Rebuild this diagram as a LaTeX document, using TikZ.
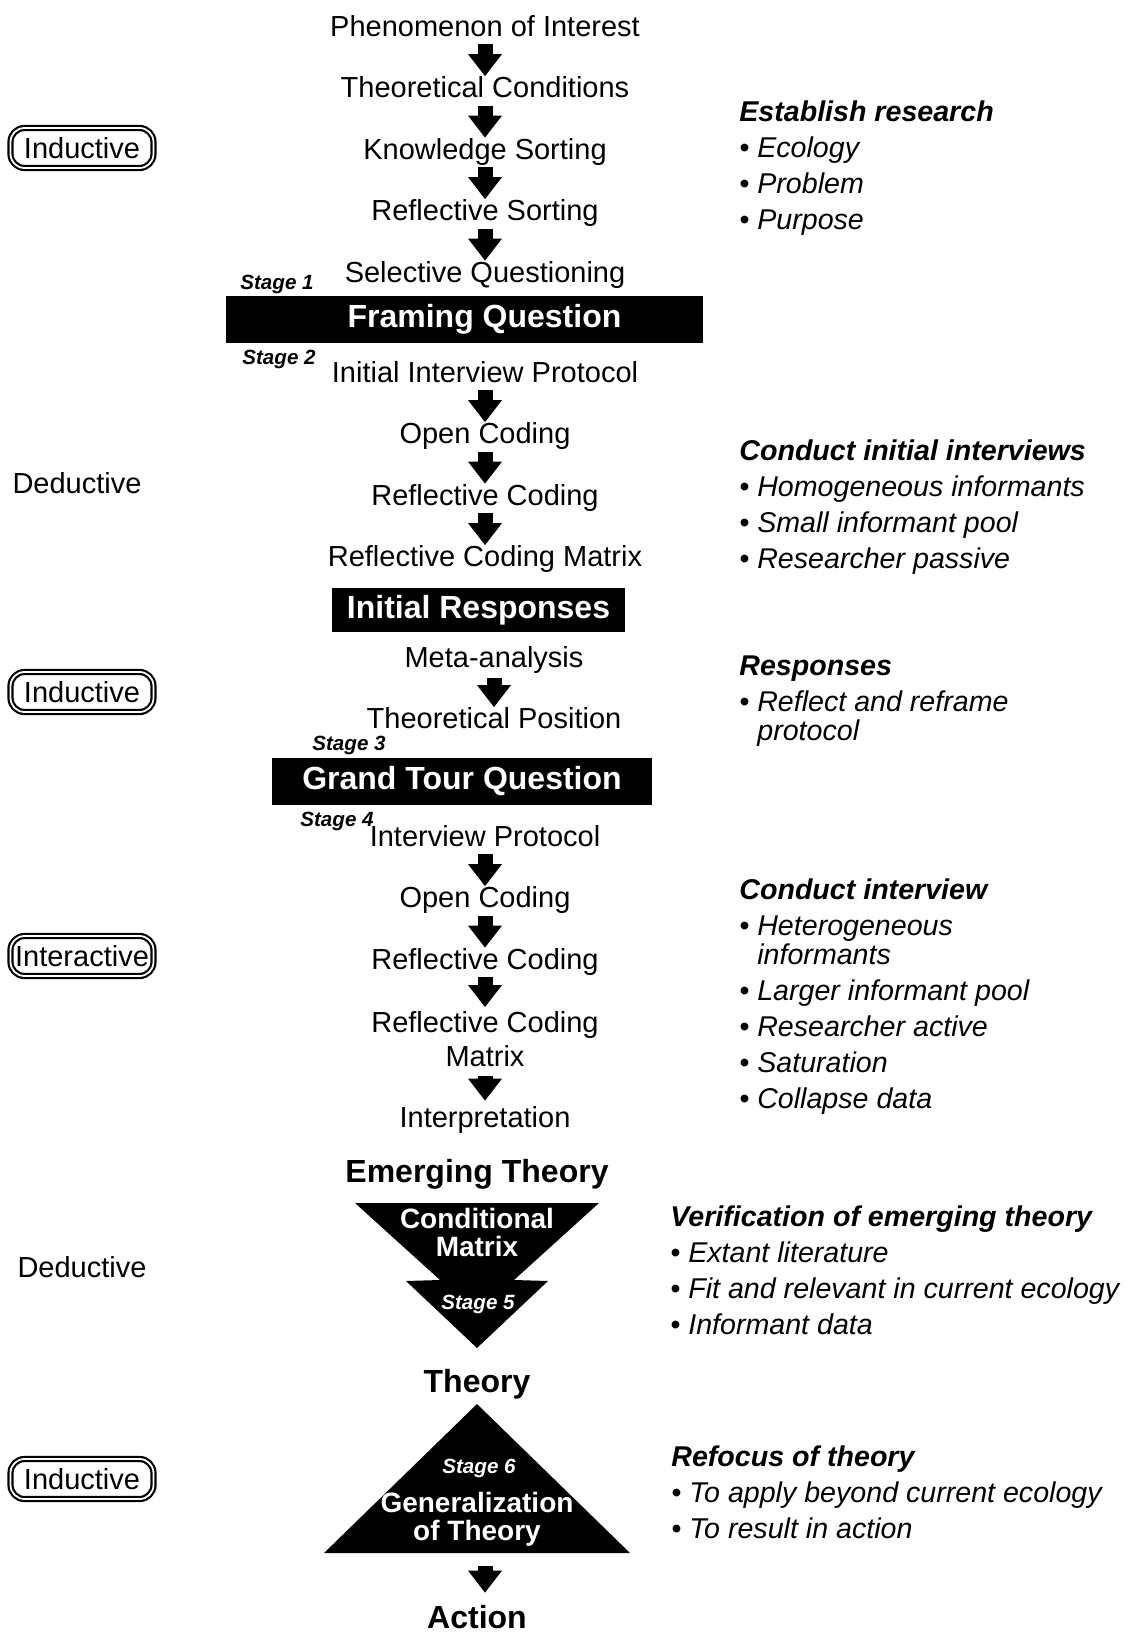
\documentclass[tikz,border=0pt]{standalone}
\usepackage{fontspec}
\setmainfont{Liberation Sans}
\usetikzlibrary{positioning, arrows.meta}

\begin{document}
\begin{tikzpicture}[x=0.5pt, y=-0.5pt, node distance=30.75pt,
    stepbase/.style={inner sep=0pt, font=\fontsize{14.5}{17}\selectfont},
    stepnode/.style={stepbase, text height=11pt, text depth=3.2pt},
    blk/.style={line width=7.5pt, -{Triangle[width=17pt, length=11pt, line width=0pt]}, shorten <=0.65pt, shorten >=-0.35pt},
    blackbar/.style={fill=black, text=white, inner sep=0pt, font=\bfseries\fontsize{16}{19}\selectfont},
    stagelbl/.style={inner sep=0pt, font=\bfseries\itshape\fontsize{10.3}{12}\selectfont},
    titlenode/.style={inner sep=0pt, font=\bfseries\fontsize{16}{19}\selectfont, text height=12pt, text depth=3.5pt},
    tritext/.style={inner sep=0pt, align=center, text=white, font=\bfseries\fontsize{14}{14}\selectfont},
    badge/.style={draw, double, double distance=0.9pt, line width=1.1pt, rounded corners=7pt, minimum width=71.5pt, minimum height=20pt, inner sep=1pt, font=\fontsize{14.5}{17}\selectfont},
    sidelbl/.style={inner sep=0pt, font=\fontsize{14.5}{17}\selectfont},
    notes/.style={anchor=north west, align=left, inner sep=0pt, font=\itshape\fontsize{14.3}{14.5}\selectfont}
]
    \useasboundingbox (0,0) rectangle (1126,1641);

    % Stage 1 column
    \node[stepnode] (Phen) at (485,28.5) {Phenomenon of Interest};
    \node[stepnode, below of=Phen] (TheoCond) {Theoretical Conditions};
    \node[stepnode, below of=TheoCond] (KnowSort) {Knowledge Sorting};
    \node[stepnode, below of=KnowSort] (RefSort) {Reflective Sorting};
    \node[stepnode, below of=RefSort] (SelQ) {Selective Questioning};

    \node[blackbar, minimum width=238.5pt, minimum height=23.5pt] (FrameQ) at (464.5,319.5) {\hspace*{20pt}Framing Question};
    \node[stagelbl] (StA) at (277,284) {Stage 1};
    \node[stagelbl] (StB) at (279,359) {Stage 2};

    % Stage 2 column
    \node[stepnode] (IntProtA) at (485,374.5) {Initial Interview Protocol};
    \node[stepnode, below of=IntProtA] (OpenA) {Open Coding};
    \node[stepnode, below of=OpenA] (RefCodA) {Reflective Coding};
    \node[stepnode, below of=RefCodA] (MatrixA) {Reflective Coding Matrix};

    \node[blackbar, minimum width=146.5pt, minimum height=22pt] (InitResp) at (478.5,610) {Initial Responses};

    \node[stepnode] (Meta) at (494,659.5) {Meta-analysis};
    \node[stepnode, below of=Meta] (TheoPos) {Theoretical Position};

    \node[stagelbl] (StC) at (349,745) {Stage 3};
    \node[blackbar, minimum width=190pt, minimum height=23.5pt] (GrandQ) at (462,781.5) {Grand Tour Question};
    \node[stagelbl] (StD) at (337,821) {Stage 4};

    % Stage 4 column
    \node[stepnode] (IntProtB) at (485,838.5) {Interview Protocol};
    \node[stepnode, below of=IntProtB] (OpenB) {Open Coding};
    \node[stepnode, below of=OpenB] (RefCodB) {Reflective Coding};
    \node[stepbase, align=center] (MatrixB) at (485,1039) {Reflective Coding\\Matrix};
    \node[stepnode] (Interp) at (485,1119.5) {Interpretation};

    % Arrows down each column
    \draw[blk] (Phen) -- (TheoCond);
    \draw[blk] (TheoCond) -- (KnowSort);
    \draw[blk] (KnowSort) -- (RefSort);
    \draw[blk] (RefSort) -- (SelQ);

    \draw[blk] (IntProtA) -- (OpenA);
    \draw[blk] (OpenA) -- (RefCodA);
    \draw[blk] (RefCodA) -- (MatrixA);

    \draw[blk, shorten <=2.15pt] (Meta) -- (TheoPos);

    \draw[blk] (IntProtB) -- (OpenB);
    \draw[blk] (OpenB) -- (RefCodB);
    \draw[blk, shorten >=1.95pt] (RefCodB) -- (MatrixB);
    \draw[blk, shorten <=4.7pt, shorten >=2.15pt] (MatrixB) -- (Interp);

    % Stage 5: conditional matrix
    \node[titlenode] (EmTheory) at (477,1174) {Emerging Theory};
    \fill (355,1203) -- (599,1203) -- (514,1280) -- (548,1281) -- (477,1348) -- (406,1281) -- (440,1280) -- cycle;
    \node[tritext] (CondMat) at (477,1232) {Conditional\\Matrix};
    \node[stagelbl, text=white] (StE) at (478,1304) {Stage 5};

    % Stage 6: generalization
    \node[titlenode] (Theory) at (477,1384) {Theory};
    \fill (477,1404) -- (630,1553) -- (324,1553) -- cycle;
    \node[stagelbl, text=white] (StF) at (479,1468) {Stage 6};
    \node[tritext] (GenTheory) at (477,1519.7) {Generalization\\of Theory};
    \coordinate (GenBase) at (485,1566);
    \node[titlenode] (Action) at (477,1620) {Action};
    \draw[blk, shorten <=0pt, shorten >=5.75pt] (GenBase) -- (GenBase |- Action.north);

    % Reasoning modes on the left
    \node[badge] (IndA) at (82,148) {Inductive};
    \node[sidelbl] (DedA) at (77,483) {Deductive};
    \node[badge] (IndB) at (82,692) {Inductive};
    \node[badge] (Inter) at (82,956) {Interactive};
    \node[sidelbl] (DedB) at (82,1267) {Deductive};
    \node[badge] (IndC) at (82,1479) {Inductive};

    % Notes on the right
    \node[notes] (EstRes) at (739,100) {\textbf{Establish research}\\[3.5pt]
        \textbullet\ Ecology\\[3.5pt]
        \textbullet\ Problem\\[3.5pt]
        \textbullet\ Purpose};
    \node[notes] (InitInt) at (739,439) {\textbf{Conduct initial interviews}\\[3.5pt]
        \textbullet\ Homogeneous informants\\[3.5pt]
        \textbullet\ Small informant pool\\[3.5pt]
        \textbullet\ Researcher passive};
    \node[notes] (Resp) at (739,655) {\textbf{Responses}\\[3.5pt]
        \textbullet\ Reflect and reframe\\
        \hphantom{\textbullet\ }protocol};
    \node[notes] (CondInt) at (739,878) {\textbf{Conduct interview}\\[3.5pt]
        \textbullet\ Heterogeneous\\
        \hphantom{\textbullet\ }informants\\[3.5pt]
        \textbullet\ Larger informant pool\\[3.5pt]
        \textbullet\ Researcher active\\[3.5pt]
        \textbullet\ Saturation\\[3.5pt]
        \textbullet\ Collapse data};
    \node[notes] (Verif) at (670,1205) {\textbf{Verification of emerging theory}\\[3.5pt]
        \textbullet\ Extant literature\\[3.5pt]
        \textbullet\ Fit and relevant in current ecology\\[3.5pt]
        \textbullet\ Informant data};
    \node[notes] (Refocus) at (671,1445) {\textbf{Refocus of theory}\\[3.5pt]
        \textbullet\ To apply beyond current ecology\\[3.5pt]
        \textbullet\ To result in action};
\end{tikzpicture}
\end{document}
